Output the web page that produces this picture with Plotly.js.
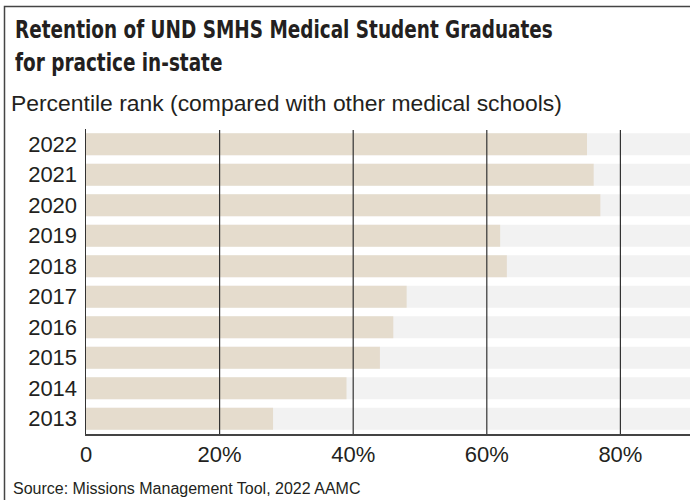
<!DOCTYPE html>
<html>
<head>
<meta charset="utf-8">
<script src="https://cdn.plot.ly/plotly-3.0.1.min.js"></script>
<style>html,body{margin:0;padding:0;background:#fff;}#chart{width:690px;height:500px;}</style>
</head>
<body>
<div id="chart"></div>
<script>
// Data
const years = ['2013','2014','2015','2016','2017','2018','2019','2020','2021','2022'];
const percentileRank = [28, 39, 44, 46, 48, 63, 62, 77, 76, 75];
const trackMax = [100, 100, 100, 100, 100, 100, 100, 100, 100, 100];
const tickVals = [0, 20, 40, 60, 80];
const tickText = ['0', '20%', '40%', '60%', '80%'];
const gridVals = [20, 40, 60, 80];

const titleText = 'Retention of UND SMHS Medical Student Graduates<br>for practice in-state';
const subtitleText = 'Percentile rank (compared with other medical schools)';
const sourceText = 'Source: Missions Management Tool, 2022 AAMC';

const W = 690, H = 500;
const M = {l: 86, r: 0, t: 129, b: 66};
const pw = W - M.l - M.r, ph = H - M.t - M.b;
const px = x => (x - M.l) / pw;
const py = y => (H - M.b - y) / ph;

const textColor = '#231f20';
const sans = 'Liberation Sans, Arial, Helvetica, sans-serif';

const traces = [
  {
    type: 'bar', orientation: 'h', y: years, x: trackMax,
    marker: {color: '#f2f2f2'}, width: 0.72, hoverinfo: 'skip', showlegend: false
  },
  {
    type: 'bar', orientation: 'h', y: years, x: percentileRank,
    marker: {color: '#e5dccd'}, width: 0.72, showlegend: false
  }
];

const shapes = gridVals.map(v => ({
  type: 'line', xref: 'x', yref: 'paper', x0: v, x1: v, y0: 0, y1: py(130),
  line: {color: '#333333', width: 1.2}, layer: 'above'
}));
shapes.push({
  type: 'rect', xref: 'paper', yref: 'paper',
  x0: px(4.5), x1: px(720), y0: py(530), y1: py(6.5),
  line: {color: '#444444', width: 1.5}, fillcolor: 'rgba(0,0,0,0)', layer: 'below'
});

const layout = {
  width: W, height: H,
  margin: M,
  paper_bgcolor: '#ffffff', plot_bgcolor: '#ffffff',
  barmode: 'overlay',
  showlegend: false,
  xaxis: {
    range: [0, (W - M.l) / (133.6 / 20)],
    tickvals: tickVals, ticktext: tickText,
    showgrid: false, zeroline: false,
    showline: true, linecolor: '#444444', linewidth: 1.5,
    ticks: '', ticklabelstandoff: 0,
    tickfont: {family: sans, size: 22, color: textColor},
    fixedrange: true
  },
  yaxis: {
    type: 'category', categoryorder: 'array', categoryarray: years,
    showgrid: false, zeroline: false,
    showline: true, linecolor: '#333333', linewidth: 1.5,
    ticks: '', ticklabelstandoff: 3,
    tickfont: {family: sans, size: 22, color: textColor},
    fixedrange: true
  },
  shapes: shapes,
  annotations: [
    {
      name: 'chartTitle',
      text: titleText, xref: 'paper', yref: 'paper', x: px(13), y: py(12),
      xanchor: 'left', yanchor: 'top', align: 'left', showarrow: false,
      font: {family: 'DejaVu Sans Condensed, DejaVu Sans, sans-serif', size: 25.5, weight: 700, color: textColor}
    },
    {
      text: subtitleText, xref: 'paper', yref: 'paper', x: px(9), y: py(103),
      xanchor: 'left', yanchor: 'middle', showarrow: false,
      font: {family: sans, size: 22.9, color: textColor}
    },
    {
      text: sourceText, xref: 'paper', yref: 'paper', x: px(11), y: py(488),
      xanchor: 'left', yanchor: 'middle', showarrow: false,
      font: {family: sans, size: 16, color: textColor}
    }
  ]
};

Plotly.newPlot('chart', traces, layout, {displayModeBar: false, staticPlot: true}).then(gd => {
  // condense the title horizontally to mimic a condensed bold typeface
  const t = gd.querySelector('.annotation[data-index="0"] text.annotation-text');
  if (t) {
    const bb = t.getBBox();
    const targetWidth = 538;
    const s = Math.min(1, targetWidth / bb.width);
    const x0 = bb.x;
    const prev = t.getAttribute('transform') || '';
    t.setAttribute('transform', (prev + ' translate(' + (x0 * (1 - s)) + ',0) scale(' + s + ',1)').trim());
  }
});
</script>
</body>
</html>
